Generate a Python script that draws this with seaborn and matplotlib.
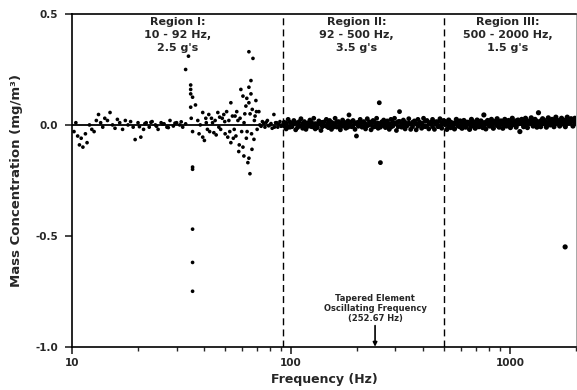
import numpy as np
import pandas as pd
import matplotlib.pyplot as plt
import seaborn as sns
from matplotlib.ticker import FixedLocator, FixedFormatter, NullFormatter

# Region I: 10 - 92 Hz
freq_I = [10.2, 10.4, 10.6, 10.8, 11.0, 11.2, 11.5, 11.7, 12.0, 12.3,
          12.6, 12.9, 13.2, 13.5, 13.8, 14.1, 14.5, 14.9, 15.3, 15.7,
          16.1, 16.5, 17.0, 17.5, 18.0, 18.5, 19.0, 19.4, 20.0, 20.6,
          21.2, 21.8, 22.5, 23.2, 24.0, 24.7, 25.5, 26.3, 27.1, 28.0,
          29.0, 30.0, 31.0, 32.0, 33.0, 33.0, 34.0, 34.8, 34.8, 34.8,
          35.5, 36.6, 34.8, 35.5, 35.5, 35.5, 35.5, 35.5, 35.0, 35.5,
          37.5, 38.0, 39.5, 39.5, 40.2, 41.0, 42.1, 42.5, 43.3, 44.4,
          45.0, 46.3, 46.8, 47.7, 48.5, 49.3, 50.0, 51.4, 52.0, 53.1,
          53.1, 54.0, 55.0, 56.0, 56.5, 57.7, 58.5, 59.0, 59.5, 60.3,
          60.3, 60.9, 61.5, 62.2, 62.5, 63.5, 64.2, 64.2, 64.2, 64.2,
          64.9, 65.6, 65.6, 66.0, 66.5, 67.0, 67.7, 68.0, 69.1, 70.0,
          71.3, 72.0, 74.0, 76.0, 78.0, 80.0, 82.0, 83.5, 85.0, 87.0,
          89.0, 91.0, 38.5, 40.8, 41.5, 43.8, 45.5, 47.2, 49.8, 50.8,
          52.5, 54.5, 55.5, 57.2, 58.0, 61.0, 62.8, 63.0, 65.0, 66.3,
          68.5, 69.5, 20.3, 21.5, 22.9, 24.3, 25.9, 27.5, 29.5, 31.5,
          73.0, 75.0, 77.0, 79.0, 81.0, 84.0, 86.0, 88.0, 90.0]
conc_I = [-0.030, 0.010, -0.050, -0.090, -0.060, -0.100, -0.040, -0.080, 0.000, -0.020,
          -0.030, 0.020, 0.047, 0.010, -0.010, 0.030, 0.020, 0.056, 0.000, -0.015,
          0.025, 0.010, -0.020, 0.020, 0.000, 0.015, -0.010, -0.066, 0.010, -0.055,
          -0.020, 0.010, -0.010, 0.015, 0.000, -0.020, 0.010, 0.005, -0.010, 0.020,
          -0.005, 0.010, 0.000, -0.010, 0.005, 0.250, 0.310, 0.180, 0.160, 0.140,
          0.125, 0.090, 0.080, -0.200, -0.190, -0.470, -0.620, -0.750, 0.030, -0.030,
          0.020, -0.040, 0.056, -0.055, -0.070, 0.010, 0.047, -0.030, 0.030, -0.035,
          0.020, 0.056, -0.010, -0.020, 0.030, 0.047, -0.040, -0.055, 0.020, 0.100,
          -0.080, 0.040, -0.020, -0.050, 0.060, -0.120, 0.030, 0.160, -0.030, 0.130,
          -0.100, -0.140, 0.050, 0.085, -0.060, -0.170, 0.170, 0.100, -0.150, 0.330,
          -0.220, 0.140, 0.200, -0.040, 0.070, 0.300, -0.065, 0.020, 0.110, -0.020,
          0.060, 0.000, 0.015, -0.010, 0.020, 0.000, -0.015, 0.047, 0.010, -0.010,
          0.015, 0.000, 0.000, 0.030, -0.020, 0.010, -0.045, 0.035, 0.015, 0.060,
          -0.030, -0.060, 0.040, 0.020, -0.090, 0.010, 0.120, -0.030, 0.050, -0.110,
          0.040, 0.060, -0.008, 0.006, 0.012, -0.006, 0.004, -0.012, 0.008, 0.014,
          -0.006, 0.008, 0.012, -0.004, 0.006, -0.010, 0.010, 0.004, -0.006]

# Region II: 92 - 500 Hz
freq_II = [93, 95, 97, 99, 101, 103, 105, 107, 109, 111,
           113, 115, 117, 120, 122, 124, 127, 129, 132, 134,
           137, 139, 142, 145, 148, 150, 153, 156, 159, 162,
           165, 168, 172, 175, 178, 182, 184, 189, 192, 196,
           199, 203, 207, 211, 215, 219, 223, 228, 232, 237,
           241, 246, 250, 253, 256, 260, 265, 270, 275, 281,
           286, 292, 297, 303, 309, 313, 320, 326, 332, 339,
           345, 352, 359, 366, 373, 380, 387, 395, 403, 410,
           418, 426, 435, 443, 452, 461, 470, 479, 488, 497]
conc_II = [0.012, -0.018, 0.025, -0.010, 0.004, 0.020, -0.022, 0.008, -0.005, 0.028,
           -0.015, 0.015, -0.020, 0.010, 0.022, -0.008, 0.030, -0.018, 0.005, 0.018,
           -0.025, 0.012, -0.003, 0.025, -0.012, 0.020, -0.020, 0.008, 0.030, -0.010,
           0.015, -0.022, 0.022, 0.002, -0.015, 0.018, 0.045, -0.008, 0.020, -0.020,
           -0.050, 0.012, 0.025, -0.010, 0.015, -0.018, 0.028, 0.000, -0.022, 0.020,
           -0.008, 0.030, -0.015, 0.100, -0.170, 0.010, 0.022, -0.012, 0.018, -0.020,
           0.025, -0.005, 0.030, -0.025, 0.015, 0.060, -0.010, 0.022, -0.018, 0.005,
           0.028, -0.020, 0.012, 0.018, -0.022, 0.025, 0.002, -0.015, 0.030, -0.008,
           0.020, -0.018, 0.012, 0.025, -0.020, 0.015, -0.008, 0.028, -0.015, 0.020]
# second reading at the same frequencies (fills the dense band)
conc_II_b = [-0.005, 0.008, -0.010, 0.012, -0.008, 0.005, 0.010, -0.012, 0.015, -0.004,
             0.006, -0.010, 0.008, -0.006, 0.002, 0.012, -0.010, 0.006, -0.012, 0.004,
             0.010, -0.008, 0.014, -0.006, 0.008, -0.004, 0.012, -0.010, 0.002, 0.014,
             -0.008, 0.006, -0.006, 0.012, 0.008, -0.010, 0.004, 0.014, -0.006, 0.008,
             0.010, -0.006, 0.004, 0.012, -0.008, 0.006, -0.004, 0.014, 0.006, -0.010,
             0.012, -0.006, 0.008, 0.004, -0.010, 0.014, -0.004, 0.010, -0.008, 0.006,
             -0.010, 0.012, 0.004, 0.010, -0.008, 0.016, 0.006, -0.006, 0.012, -0.004,
             0.008, 0.004, -0.008, 0.014, 0.006, -0.006, 0.012, 0.008, -0.004, 0.016,
             -0.006, 0.010, 0.004, -0.008, 0.012, 0.002, 0.014, -0.006, 0.010, 0.004]

# Region III: 500 - 2000 Hz
freq_III = [505, 515, 525, 536, 547, 558, 569, 580, 592, 604,
            616, 628, 641, 654, 667, 680, 694, 708, 722, 737,
            751, 760, 776, 791, 807, 823, 840, 857, 874, 892,
            910, 928, 947, 966, 985, 1005, 1025, 1046, 1067, 1088,
            1110, 1132, 1155, 1178, 1202, 1226, 1251, 1276, 1302, 1328,
            1350, 1382, 1410, 1438, 1467, 1497, 1527, 1558, 1589, 1621,
            1654, 1687, 1721, 1756, 1787, 1791, 1827, 1864, 1901, 1940,
            1979, 1995]
conc_III = [0.015, -0.020, 0.022, -0.012, 0.008, -0.018, 0.025, -0.005, 0.018, -0.015,
            0.020, -0.010, 0.012, -0.020, 0.025, 0.000, -0.015, 0.022, -0.008, 0.018,
            -0.012, 0.045, -0.018, 0.020, -0.005, 0.025, -0.015, 0.010, 0.028, -0.010,
            0.018, -0.015, 0.025, -0.005, 0.020, -0.012, 0.030, 0.002, -0.010, 0.022,
            -0.030, 0.025, -0.008, 0.030, -0.012, 0.018, 0.032, -0.005, 0.025, -0.010,
            0.055, -0.008, 0.028, 0.010, -0.010, 0.032, 0.000, 0.025, -0.008, 0.035,
            0.012, -0.005, 0.030, 0.018, -0.550, -0.008, 0.035, 0.010, 0.028, -0.005,
            0.030, 0.015]
conc_III_b = [0.002, 0.010, -0.008, 0.012, -0.004, 0.008, 0.004, 0.014, -0.008, 0.006,
              -0.004, 0.012, 0.002, 0.008, -0.006, 0.014, 0.006, -0.004, 0.012, 0.002,
              0.010, -0.006, 0.012, 0.004, 0.014, -0.004, 0.008, 0.016, -0.002, 0.012,
              0.004, 0.014, -0.002, 0.012, 0.006, 0.016, 0.002, 0.012, 0.018, 0.004,
              0.014, 0.006, 0.018, 0.002, 0.016, 0.008, 0.012, 0.020, 0.004, 0.016,
              0.010, 0.018, 0.006, 0.020, 0.012, 0.004, 0.018, 0.010, 0.022, 0.008,
              0.020, 0.012, 0.004, 0.022, 0.010, 0.018, 0.008, 0.024, 0.014, 0.020,
              0.012, 0.022]

region_bounds = [92, 500]
region_labels = ["Region I:\n10 - 92 Hz,\n2.5 g's",
                 "Region II:\n92 - 500 Hz,\n3.5 g's",
                 "Region III:\n500 - 2000 Hz,\n1.5 g's"]
region_label_x = [30.3, 199, 980]
teom_label = "Tapered Element\nOscillating Frequency\n(252.67 Hz)"
teom_x = 242  # where the arrow sits in the original figure

df = pd.concat([
    pd.DataFrame({"freq": freq_I, "conc": conc_I, "region": "I"}),
    pd.DataFrame({"freq": freq_II, "conc": conc_II, "region": "II"}),
    pd.DataFrame({"freq": freq_II, "conc": conc_II_b, "region": "II"}),
    pd.DataFrame({"freq": freq_III, "conc": conc_III, "region": "III"}),
    pd.DataFrame({"freq": freq_III, "conc": conc_III_b, "region": "III"}),
], ignore_index=True)

sns.set_style("ticks")
plt.rcParams['font.family'] = ['DejaVu Sans']
plt.rcParams['font.weight'] = 'bold'
plt.rcParams['axes.unicode_minus'] = False

fig = plt.figure(figsize=(5.77, 3.90), dpi=100)
ax = fig.add_axes([0.125, 0.111, 0.873, 0.853])

sns.scatterplot(data=df, x="freq", y="conc", color="black", size="region",
                sizes={"I": 7, "II": 12, "III": 14}, marker="o",
                edgecolor="none", linewidth=0, legend=False, ax=ax, zorder=3)

ax.axhline(0, color="black", lw=1.3, zorder=2)
for b in region_bounds:
    ax.axvline(b, color="black", lw=1.0, ls=(0, (5, 3)), zorder=2)

for xl, txt in zip(region_label_x, region_labels):
    ax.text(xl, 0.487, txt, ha="center", va="top", fontsize=8,
            fontweight="bold", linespacing=1.4)

ax.annotate("", xy=(teom_x, -1.0), xytext=(teom_x, -0.905),
            arrowprops=dict(arrowstyle="-|>", color="black", lw=1.2,
                            mutation_scale=6, shrinkA=0, shrinkB=0))
ax.text(teom_x, -0.893, teom_label, ha="center", va="bottom", fontsize=6,
        fontweight="bold", linespacing=1.15)

ax.set_xscale("log")
ax.set_xlim(10, 2000)
ax.set_ylim(-1.0, 0.5)
ax.xaxis.set_major_locator(FixedLocator([10, 100, 1000]))
ax.xaxis.set_major_formatter(FixedFormatter(["10", "100", "1000"]))
minor = [20, 30, 40, 50, 60, 70, 80, 90, 200, 300, 400, 500, 600, 700, 800, 900, 2000]
ax.xaxis.set_minor_locator(FixedLocator(minor))
ax.xaxis.set_minor_formatter(NullFormatter())
ax.set_yticks([-1.0, -0.5, 0.0, 0.5])
ax.set_yticklabels(["-1.0", "-0.5", "0.0", "0.5"])

ax.tick_params(axis="both", which="major", direction="out", length=5, width=1.2,
               labelsize=7.5, pad=3)
ax.tick_params(axis="y", which="major", pad=5)
ax.tick_params(axis="x", which="minor", direction="out", length=3, width=1.0)
for s in ["left", "bottom", "top"]:
    ax.spines[s].set_linewidth(1.2)
    ax.spines[s].set_color("black")
ax.spines["right"].set_linewidth(0.6)
ax.spines["right"].set_color("0.6")

ax.set_xlabel("Frequency (Hz)", fontsize=9, fontweight="bold", labelpad=4)
ax.set_ylabel("Mass Concentration (mg/m³)", fontsize=9.5, fontweight="bold", labelpad=9)

fig.savefig("out.png", dpi=100)
